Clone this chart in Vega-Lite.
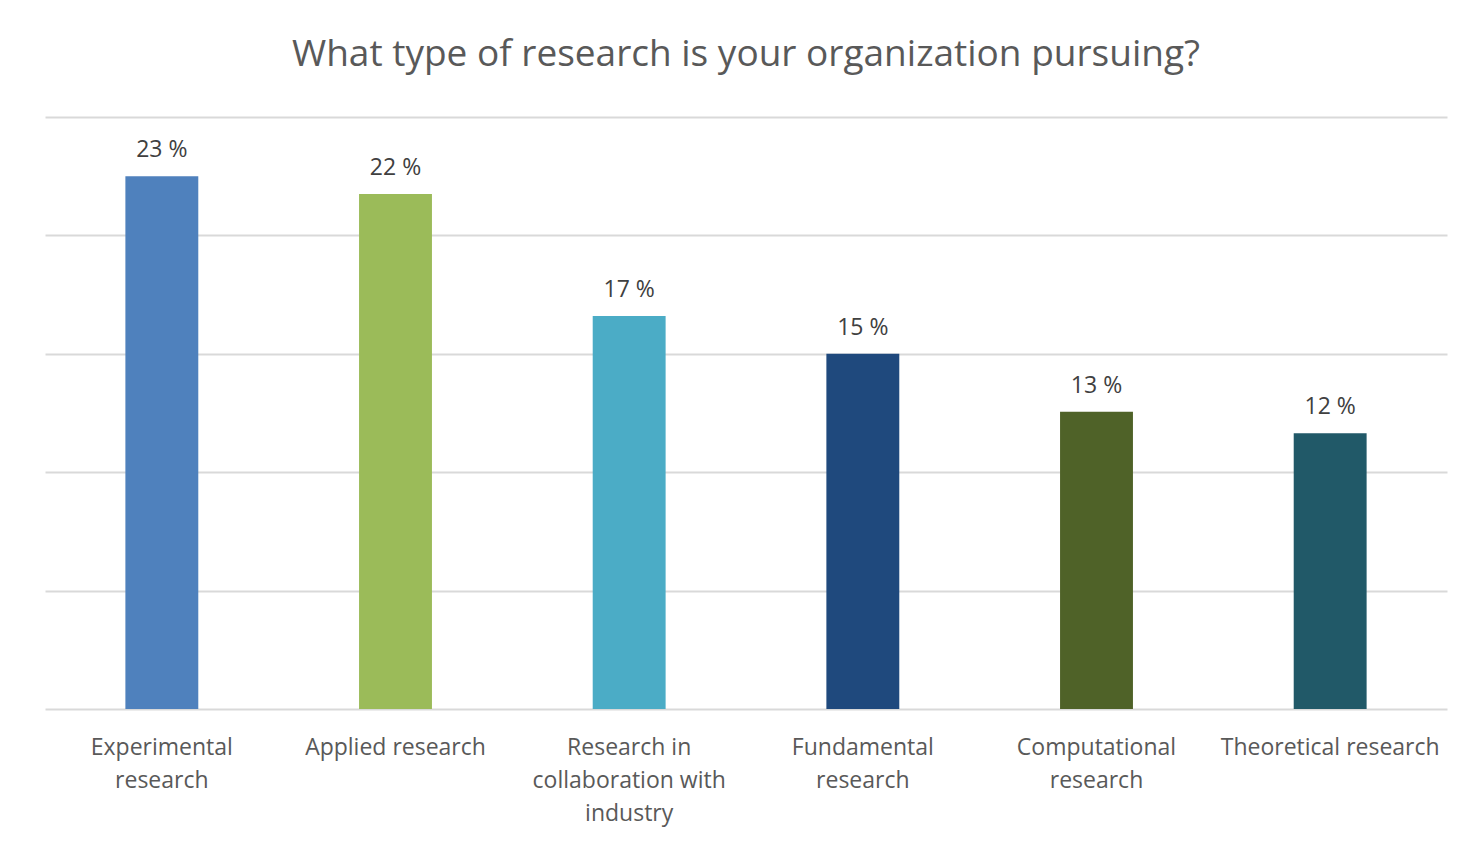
{
  "$schema": "https://vega.github.io/schema/vega-lite/v6.json",
  "width": 1402,
  "height": 592,
  "autosize": {"type": "none"},
  "padding": {"left": 45, "top": 117, "right": 16, "bottom": 134},
  "background": "white",
  "title": {
    "text": "What type of research is your organization pursuing?",
    "font": "Open Sans",
    "fontSize": 37,
    "fontWeight": "normal",
    "color": "#595959",
    "anchor": "middle",
    "baseline": "alphabetic",
    "offset": 14
  },
  "config": {
    "view": {"stroke": null},
    "axis": {"labelFont": "Open Sans", "labelFontSize": 23, "labelColor": "#595959", "labelLimit": 400}
  },
  "data": {
    "values": [
      {"type": "Experimental research", "share": 22.5, "label": "23 %"},
      {"type": "Applied research", "share": 21.75, "label": "22 %"},
      {"type": "Research in collaboration with industry", "share": 16.6, "label": "17 %"},
      {"type": "Fundamental research", "share": 15.0, "label": "15 %"},
      {"type": "Computational research", "share": 12.55, "label": "13 %"},
      {"type": "Theoretical research", "share": 11.65, "label": "12 %"}
    ]
  },
  "encoding": {
    "x": {
      "field": "type",
      "type": "nominal",
      "sort": null,
      "scale": {"paddingInner": 0, "paddingOuter": 0},
      "axis": {
        "title": null,
        "labelAngle": 0,
        "domain": false,
        "ticks": false,
        "labelPadding": 27,
        "labelLineHeight": 33,
        "labelBaseline": "top",
        "labelExpr": "datum.label == 'Experimental research' ? ['Experimental', 'research'] : datum.label == 'Research in collaboration with industry' ? ['Research in', 'collaboration with', 'industry'] : datum.label == 'Fundamental research' ? ['Fundamental', 'research'] : datum.label == 'Computational research' ? ['Computational', 'research'] : datum.label"
      }
    },
    "y": {
      "field": "share",
      "type": "quantitative",
      "scale": {"domain": [0, 25]},
      "axis": {
        "title": null,
        "values": [0, 5, 10, 15, 20, 25],
        "labels": false,
        "ticks": false,
        "domain": false,
        "grid": true,
        "gridColor": "#d9d9d9",
        "gridWidth": 2
      }
    }
  },
  "layer": [
    {
      "mark": {"type": "bar", "width": {"band": 0.312}},
      "encoding": {
        "color": {
          "field": "type",
          "type": "nominal",
          "sort": null,
          "legend": null,
          "scale": {
            "domain": ["Experimental research", "Applied research", "Research in collaboration with industry", "Fundamental research", "Computational research", "Theoretical research"],
            "range": ["#4F81BD", "#9BBB59", "#4BACC6", "#1F497D", "#4F6228", "#215968"]
          }
        }
      }
    },
    {
      "mark": {"type": "text", "font": "Open Sans", "fontSize": 23, "color": "#404040", "baseline": "alphabetic", "dy": -19},
      "encoding": {"text": {"field": "label"}}
    }
  ]
}
